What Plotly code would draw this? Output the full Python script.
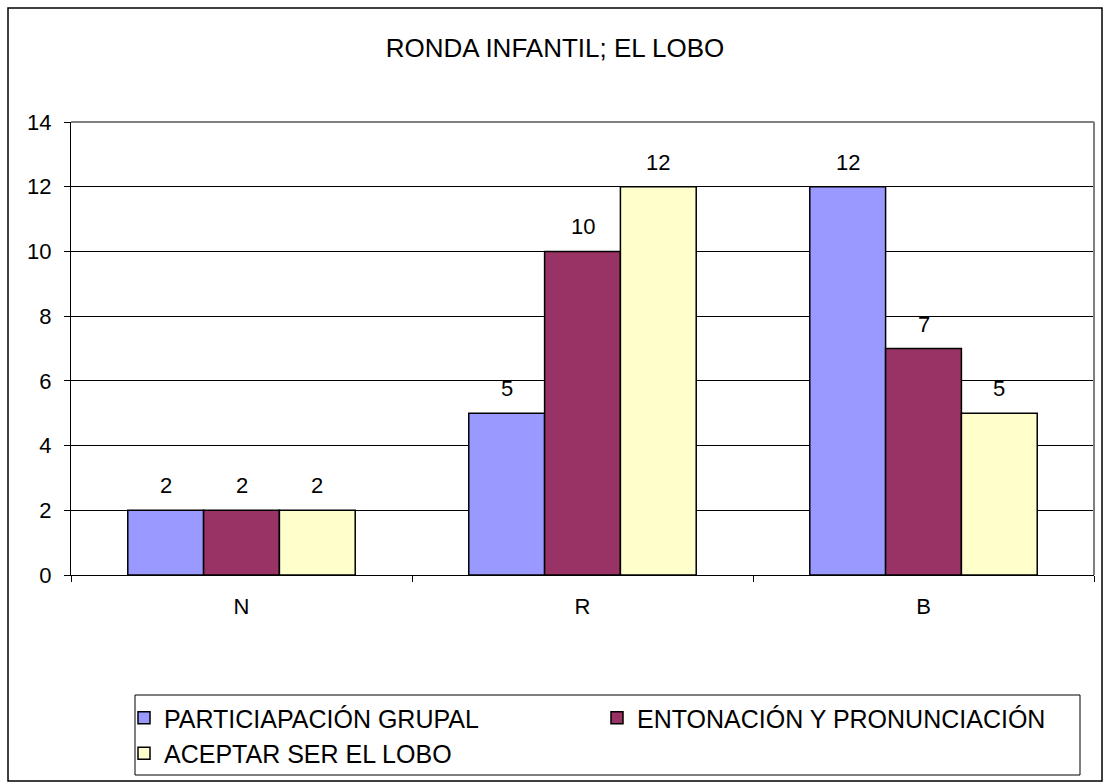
import plotly.graph_objects as go

categories = ["N", "R", "B"]
series_names = ["PARTICIAPACIÓN GRUPAL", "ENTONACIÓN Y PRONUNCIACIÓN", "ACEPTAR SER EL LOBO"]
participacion = [2, 5, 12]
entonacion = [2, 10, 7]
aceptar = [2, 12, 5]
colors = ["#9999FF", "#993366", "#FFFFCC"]
y_ticks = [0, 2, 4, 6, 8, 10, 12, 14]

FONT = "Liberation Sans, Arial, sans-serif"

L, R, T, B = 71, 16, 122, 208
W, H = 1110, 783
pw, ph = W - L - R, H - T - B
BARGAP = 0.333
bar_px = pw / len(categories) * (1 - BARGAP) / 3

all_series = [participacion, entonacion, aceptar]

fig = go.Figure()
annotations = []
for i, (name, vals, col) in enumerate(zip(series_names, all_series, colors)):
    fig.add_trace(go.Bar(
        x=categories, y=vals, name=name,
        marker=dict(color=col, line=dict(color="black", width=1.5)),
        hoverinfo="x+y+name",
    ))
    for c, v in zip(categories, vals):
        annotations.append(dict(
            x=c, y=v, xref="x", yref="y", text=str(v), showarrow=False,
            xshift=(i - 1) * bar_px, yshift=10, yanchor="bottom", xanchor="center",
            font=dict(size=22, family=FONT, color="black"),
        ))

def px(x):
    return (x - L) / pw

def py(y):
    return (H - B - y) / ph

fig.update_layout(
    width=W, height=H,
    margin=dict(l=L, r=R, t=T, b=B, autoexpand=False),
    paper_bgcolor="white", plot_bgcolor="white",
    barmode="group", bargap=BARGAP, bargroupgap=0,
    font=dict(family=FONT, color="black", size=22),
    title=dict(text="RONDA INFANTIL; EL LOBO", x=0.5, xref="container", xanchor="center",
               y=1 - 48 / H, yref="container", yanchor="middle",
               font=dict(size=26, family=FONT, color="black")),
    showlegend=True,
    legend=dict(orientation="h", xref="container", yref="container",
                x=124 / W, xanchor="left", y=1 - 695 / H, yanchor="top",
                entrywidth=428, entrywidthmode="pixels", itemwidth=30,
                font=dict(size=25, family=FONT, color="black"),
                bgcolor="rgba(0,0,0,0)", borderwidth=0, tracegroupgap=0),
    xaxis=dict(type="category", showline=True, linecolor="black", linewidth=1,
               ticks="outside", ticklen=6, tickcolor="black", tickson="boundaries",
               ticklabelstandoff=12,
               showgrid=False, tickfont=dict(size=22, family=FONT)),
    yaxis=dict(range=[0, 14], tickvals=y_ticks, showline=True, linecolor="black", linewidth=1,
               ticks="outside", ticklen=6, tickcolor="black", ticklabelstandoff=8,
               showgrid=True, gridcolor="black", gridwidth=1, zeroline=False,
               tickfont=dict(size=22, family=FONT)),
    annotations=annotations,
    shapes=[
        # outer chart border
        dict(type="rect", xref="paper", yref="paper", x0=px(8), x1=px(1102), y0=py(781), y1=py(8),
             line=dict(color="black", width=1.5), fillcolor="rgba(0,0,0,0)", layer="below"),
        # plot area top & right border (gray)
        dict(type="line", xref="paper", yref="paper", x0=0, x1=1, y0=1, y1=1,
             line=dict(color="#808080", width=2), layer="above"),
        dict(type="line", xref="paper", yref="paper", x0=1, x1=1, y0=0, y1=1,
             line=dict(color="#808080", width=2), layer="above"),
        # legend box
        dict(type="rect", xref="paper", yref="paper", x0=px(135), x1=px(1080), y0=py(775), y1=py(695),
             line=dict(color="black", width=1), fillcolor="rgba(0,0,0,0)", layer="below"),
    ],
)

fig.write_html("out.html", config={"displayModeBar": False},
               post_script="document.body.style.margin='0px';")
